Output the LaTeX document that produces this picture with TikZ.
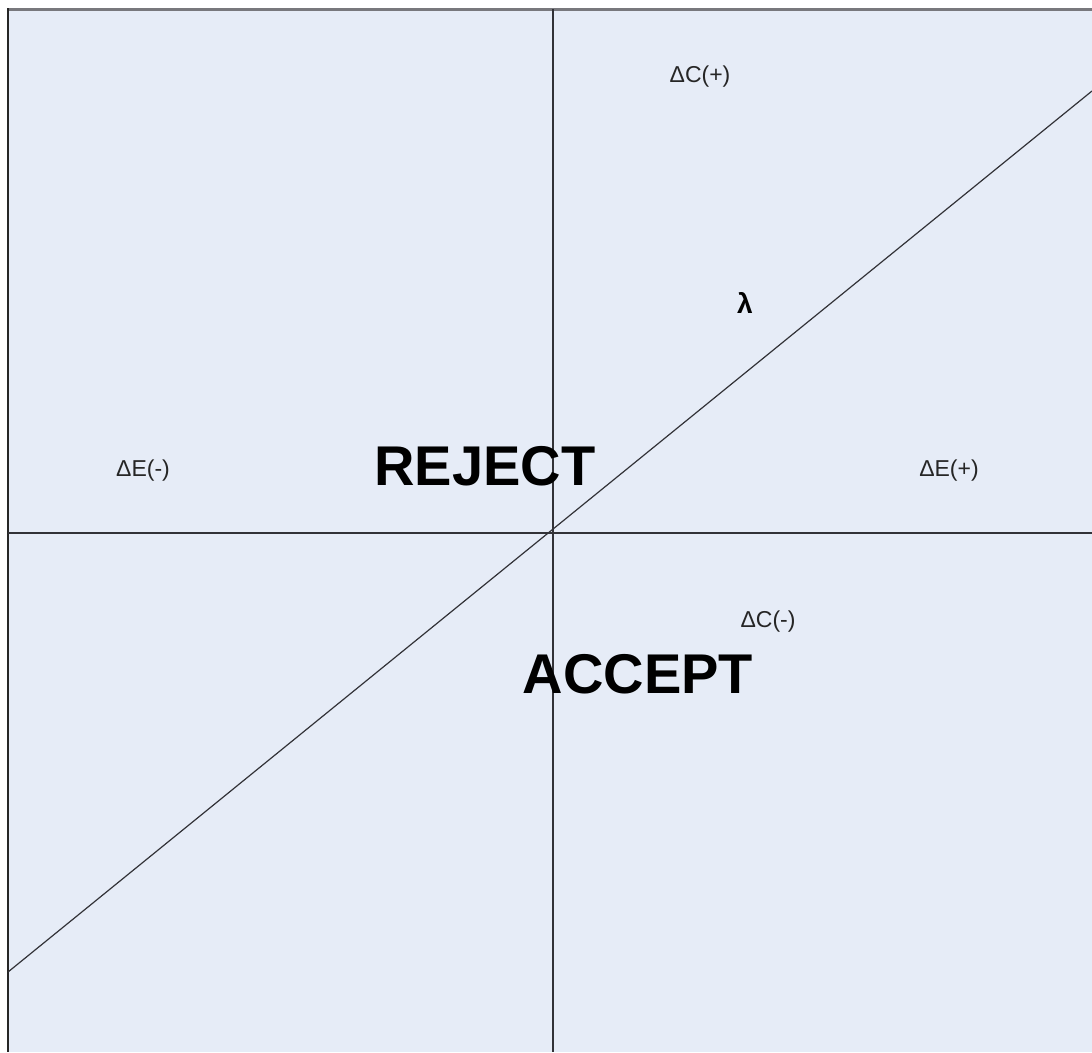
\documentclass[tikz,border=0pt]{standalone}
\usepackage{fontspec}
\setmainfont{Liberation Sans}
\definecolor{panel}{RGB}{230,236,247}
\definecolor{axisline}{RGB}{50,50,55}
\definecolor{topline}{RGB}{120,120,125}
\begin{document}
\begin{tikzpicture}[x=1pt,y=-1pt,
  small/.style={inner sep=0pt,anchor=base,font=\fontsize{23}{23}\selectfont,text=black!85},
  big/.style={inner sep=0pt,anchor=base,font=\fontsize{56}{56}\selectfont\bfseries,text=black},
  axis/.style={draw=axisline,line width=1.4pt}]
\useasboundingbox (0,0) rectangle (1092,1052);
\fill[white] (0,0) rectangle (1092,1052);
\fill[panel] (8,9) rectangle (1092,1052);
\draw[topline,line width=3pt] (8,9) -- (1092,9);
\draw[black!85,line width=2pt] (8,8) -- (8,1052);
% axes
\coordinate (vtop) at (553,9);
\coordinate (vbot) at (553,1052);
\coordinate (hl) at (8,533);
\coordinate (hr) at (1092,533);
\coordinate (dl) at (8,972);
\coordinate (dr) at (1092,91);
\draw[axis] (vtop) -- (vbot);
\draw[axis] (hl) -- (hr);
\draw[axis,line width=1.2pt] (dl) -- (dr);
% labels
\node[small] (cplus) at (700,82) {ΔC(+)};
\node[small] (eminus) at (143,476) {ΔE(-)};
\node[small] (eplus) at (949,476) {ΔE(+)};
\node[small] (cminus) at (768,627) {ΔC(-)};
\node[inner sep=0pt,anchor=base,font=\fontsize{28}{28}\selectfont\bfseries] (lam) at (745,313) {λ};
\node[big] (reject) at (485,485) {REJECT};
\node[big] (accept) at (638,693) {ACCEPT};
\end{tikzpicture}
\end{document}
